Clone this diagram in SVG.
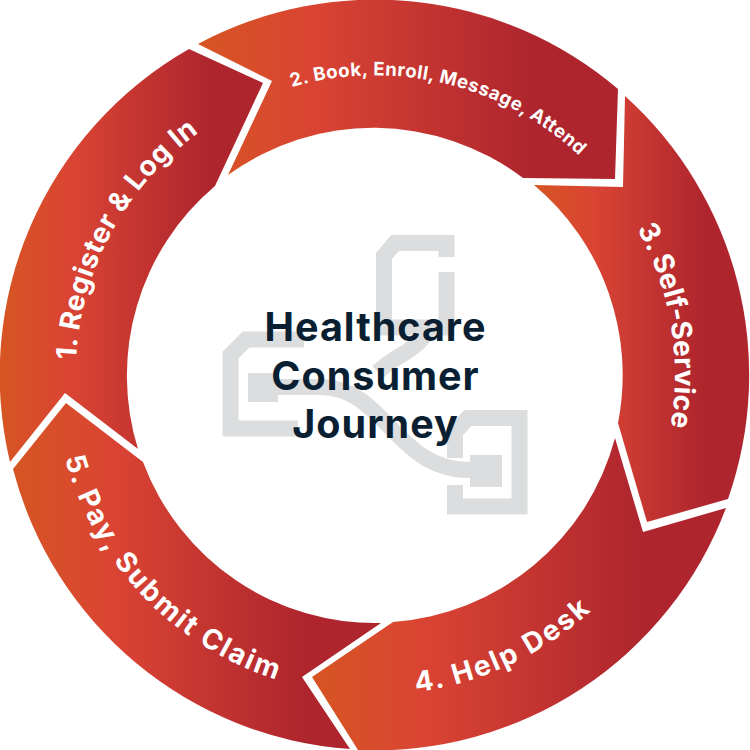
<svg xmlns="http://www.w3.org/2000/svg" width="750" height="750" viewBox="0 0 750 750">
<style>
.seg{fill:url(#grad)}
.lbl{font-family:"Inter","Liberation Sans",sans-serif;font-weight:700;fill:#fff;font-size:28px}
.title{font-family:"Inter","Liberation Sans",sans-serif;font-weight:700;fill:#0b1f33;font-size:39.500px;letter-spacing:1px;text-anchor:middle}
.lg{fill:none;stroke:#dcddde;stroke-width:16;stroke-linejoin:miter}
</style>
<defs>
<linearGradient id="grad" x1="0" y1="0" x2="1" y2="0">
<stop offset="0" stop-color="#d65522"/>
<stop offset="0.27" stop-color="#da4433"/>
<stop offset="0.8" stop-color="#ae252e"/>
<stop offset="1" stop-color="#ae252e"/>
</linearGradient>
<path id="p1" d="M76,360 A300,300 0 0 1 375,75"/>
<path id="p2" d="M292,87 A300,300 0 0 1 675,375"/>
<path id="p3" d="M637,229 A300,300 0 0 1 375,675"/>
<path id="p4" d="M416,692 A320,320 0 0 0 695,375"/>
<path id="p5" d="M65,458 A320,320 0 0 0 375,695"/>
</defs>
<rect width="750" height="750" fill="#fff"/>
<g id="logo">
<path class="lg" d="M446.500,257 V243 H395 L384,256 V327.500 H446.500 V272"/>
<path class="lg" d="M427,332 C415,352 395,355 378,372"/>
<path class="lg" d="M304,339.500 H246 L230.500,355 V428.500 H298"/>
<rect x="248" y="373" width="30" height="29" fill="#dcddde"/>
<path class="lg" d="M270,387 H320 C385,387 395,470 470,470"/>
<rect x="470" y="455" width="32" height="32" fill="#dcddde"/>
<path class="lg" d="M455,485 V506.500 H519.500 V418 H468 L455,432 V458"/>
</g>
<g id="step-1">
<path class="seg" d="M10,462 A375,375 0 0 1 189,49 L263,83 L215,186 A248,248 0 0 0 138,449 L65,393 Z"/>
<text class="lbl" style="letter-spacing:0.600px"><textPath href="#p1">1. Register &amp; Log In</textPath></text>
</g>
<g id="step-2">
<path class="seg" d="M198,44 A375,375 0 0 1 618,89 L615,179 L523,178 A248,248 0 0 0 228,175 L272,81 Z"/>
<text class="lbl" style="font-size:18.500px;letter-spacing:0.550px"><textPath href="#p2">2. Book, Enroll, Message, Attend</textPath></text>
</g>
<g id="step-3">
<path class="seg" d="M625,96 A375,375 0 0 1 728,499 L647,522 L618,423 A248,248 0 0 0 534,185 L623,187 Z"/>
<text class="lbl" style="letter-spacing:0.100px"><textPath href="#p3">3. Self-Service</textPath></text>
</g>
<g id="step-4">
<path class="seg" d="M726,508 A375,375 0 0 1 358,750 L312,677 L393,622 A248,248 0 0 0 615,438 L643,532 Z"/>
<text class="lbl" style="letter-spacing:2.200px"><textPath href="#p4">4. Help Desk</textPath></text>
</g>
<g id="step-5">
<path class="seg" d="M13,469 A375,375 0 0 0 350,749 L302,677 L381,623 A248,248 0 0 1 143,462 L66,403 Z"/>
<text class="lbl" style="letter-spacing:2.150px"><textPath href="#p5">5. Pay, Submit Claim</textPath></text>
</g>
<g id="center">
<text class="title" x="375.500" y="341">Healthcare</text>
<text class="title" x="375.500" y="390">Consumer</text>
<text class="title" x="375.500" y="438">Journey</text>
</g>
</svg>
